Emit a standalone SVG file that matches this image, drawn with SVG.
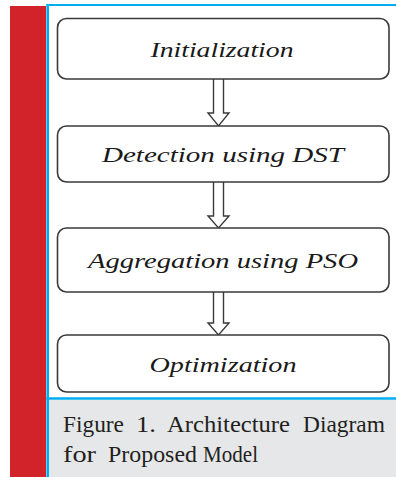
<svg xmlns="http://www.w3.org/2000/svg" width="396" height="477" viewBox="0 0 396 477">
<style>
.box{fill:#fff;stroke:#3a3a3a;stroke-width:1.6}
.lbl{font-family:"Liberation Serif",serif;font-style:italic;font-size:22px;fill:#1a1a1a;text-anchor:middle}
.arr{fill:#fff;stroke:#3a3a3a;stroke-width:1.4;stroke-linejoin:miter}
.cap{font-family:"Liberation Serif",serif;font-size:23px;fill:#231f20}
</style>
<rect x="0" y="0" width="396" height="477" fill="#fff"/>
<rect x="10" y="6" width="36" height="471" fill="#d2232a"/>
<rect x="49" y="400" width="347" height="77" fill="#e6e7e8"/>
<line x1="47.7" y1="4" x2="47.7" y2="477" stroke="#00aeef" stroke-width="2.6"/>
<line x1="46.5" y1="5" x2="396" y2="5" stroke="#00aeef" stroke-width="2.2"/>
<line x1="46.5" y1="398.5" x2="396" y2="398.5" stroke="#00aeef" stroke-width="2.6"/>
<g id="connectors">
<path class="arr" d="M213.5,79 V113 H208 L218.5,126 L229,113 H223.5 V79"/>
<path class="arr" d="M213.5,182 V216 H208 L218.5,228 L229,216 H223.5 V182"/>
<path class="arr" d="M213.5,292 V323 H208 L218.5,335 L229,323 H223.5 V292"/>
</g>
<g id="n1"><rect class="box" x="57.5" y="18.5" width="331.5" height="60.5" rx="9"/><text class="lbl" x="222" y="57" textLength="143" lengthAdjust="spacingAndGlyphs">Initialization</text></g>
<g id="n2"><rect class="box" x="57.5" y="126" width="331.5" height="56" rx="9"/><text class="lbl" x="223" y="162" textLength="242" lengthAdjust="spacingAndGlyphs">Detection using DST</text></g>
<g id="n3"><rect class="box" x="57.5" y="228" width="331.5" height="64" rx="9"/><text class="lbl" x="223" y="268" textLength="270" lengthAdjust="spacingAndGlyphs">Aggregation using PSO</text></g>
<g id="n4"><rect class="box" x="57.5" y="335" width="331.5" height="57" rx="9"/><text class="lbl" x="223" y="372" textLength="147" lengthAdjust="spacingAndGlyphs">Optimization</text></g>
<g id="caption">
<text class="cap" y="432"><tspan x="63" textLength="61" lengthAdjust="spacingAndGlyphs">Figure</tspan> <tspan x="136" textLength="20" lengthAdjust="spacingAndGlyphs">1.</tspan> <tspan x="167" textLength="123" lengthAdjust="spacingAndGlyphs">Architecture</tspan> <tspan x="303" textLength="82" lengthAdjust="spacingAndGlyphs">Diagram</tspan></text>
<text class="cap" y="462"><tspan x="63" textLength="33" lengthAdjust="spacingAndGlyphs">for</tspan> <tspan x="108" textLength="89" lengthAdjust="spacingAndGlyphs">Proposed</tspan> <tspan x="203" textLength="55" lengthAdjust="spacingAndGlyphs">Model</tspan></text>
</g>
</svg>
